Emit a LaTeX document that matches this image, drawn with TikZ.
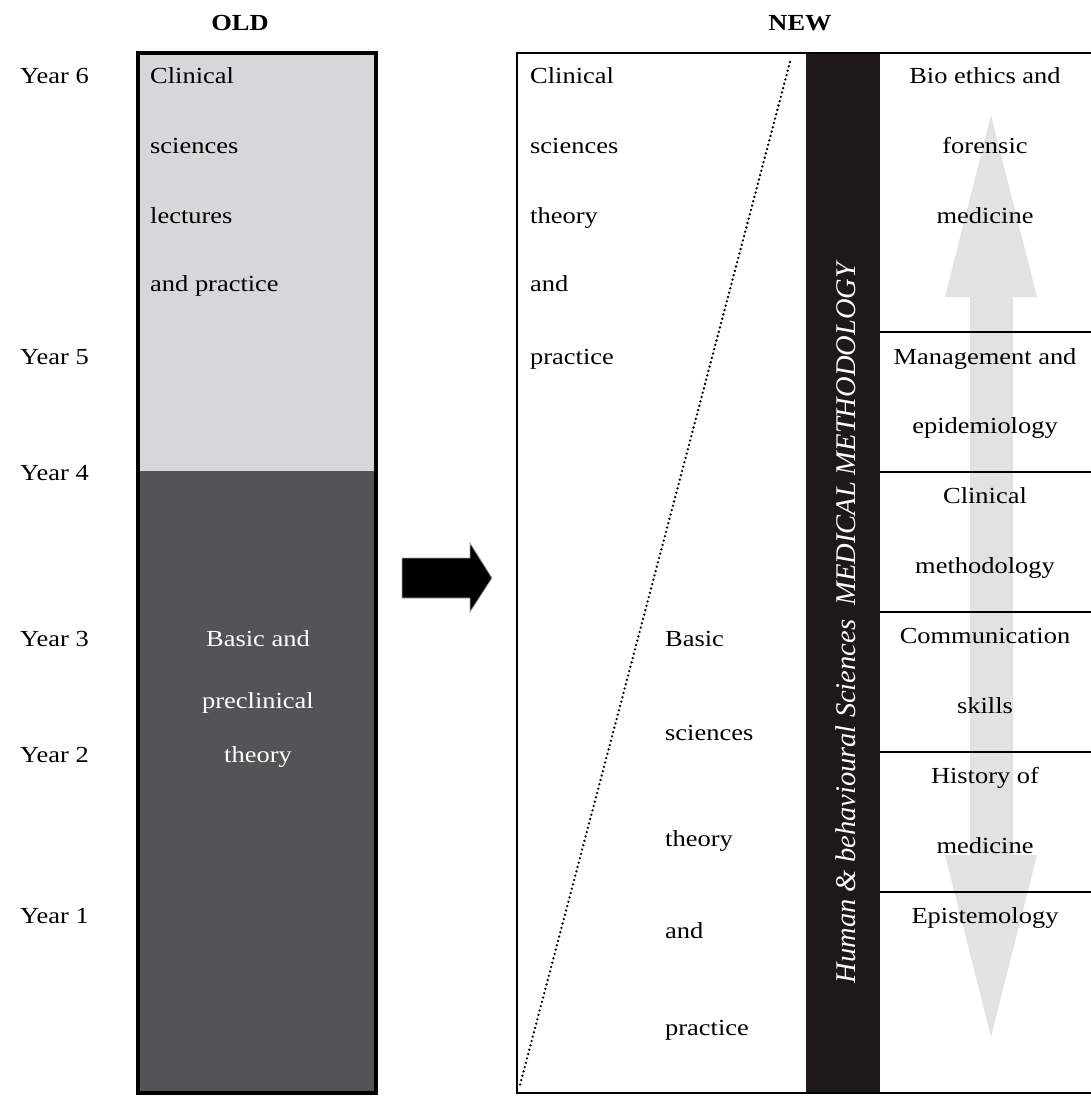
\documentclass[tikz,border=0pt]{standalone}
\usepackage{fontspec}
\setmainfont[FakeStretch=1.15]{Liberation Serif}
\newfontfamily\rotfont{Liberation Serif}
\definecolor{oldlight}{HTML}{D6D7D9}
\definecolor{olddark}{HTML}{545456}
\definecolor{barblack}{HTML}{1D191A}
\definecolor{arrgray}{HTML}{E2E2E2}
\begin{document}
\begin{tikzpicture}[x=1pt,y=-1pt,
  txt/.style={font=\fontsize{23}{28}\selectfont, inner sep=0pt},
  lt/.style={txt, anchor=base west},
  ct/.style={txt, anchor=base},
  head/.style={font=\fontsize{23}{28}\selectfont\bfseries, inner sep=0pt, anchor=base},
  divider/.style={line width=2pt}]
\useasboundingbox (0,0) rectangle (1091,1096);
% headings
\node[head] (old) at (240,30) {OLD};
\node[head] (new) at (800,30) {NEW};
% years
\node[lt] (y6) at (20,83) {Year 6};
\node[lt] (y5) at (20,364) {Year 5};
\node[lt] (y4) at (20,480) {Year 4};
\node[lt] (y3) at (20,646) {Year 3};
\node[lt] (y2) at (20,762) {Year 2};
\node[lt] (y1) at (20,923) {Year 1};
% OLD column
\fill[oldlight] (138,53) rectangle (376,471);
\fill[olddark] (138,471) rectangle (376,1093);
\draw[line width=4pt] (138,53) rectangle (376,1093);
\node[lt] (o1) at (150,83) {Clinical};
\node[lt] (o2) at (150,153) {sciences};
\node[lt] (o3) at (150,223) {lectures};
\node[lt] (o4) at (150,291) {and practice};
\node[ct, text=white] (o5) at (258,646) {Basic and};
\node[ct, text=white] (o6) at (258,708) {preclinical};
\node[ct, text=white] (o7) at (258,762) {theory};
% transition arrow
\fill[black, draw=gray!70, line width=0.8pt] (402,558) -- (470,558) -- (470,543) -- (492,578) -- (470,612) -- (470,598) -- (402,598) -- cycle;
% NEW column
\fill[arrgray] (991,115) -- (1037,297) -- (1013,297) -- (1013,855) -- (1037,855) -- (991,1037) -- (945,855) -- (970,855) -- (970,297) -- (945,297) -- cycle;
\fill[barblack] (806,53) rectangle (880,1093);
\draw[line width=2pt] (517,53) rectangle (1095,1093);
\foreach \yy in {332,472,612,752,892} \draw[divider] (880,\yy) -- (1095,\yy);
\draw[line width=2.6pt, dash pattern=on 0pt off 4.5pt, line cap=round] (790,62) -- (520,1085);
\node[lt] (n1) at (530,83) {Clinical};
\node[lt] (n2) at (530,153) {sciences};
\node[lt] (n3) at (530,223) {theory};
\node[lt] (n4) at (530,291) {and};
\node[lt] (n5) at (530,364) {practice};
\node[lt] (b1) at (665,646) {Basic};
\node[lt] (b2) at (665,740) {sciences};
\node[lt] (b3) at (665,846) {theory};
\node[lt] (b4) at (665,938) {and};
\node[lt] (b5) at (665,1035) {practice};
\node[rotate=90, text=white, inner sep=0pt, font=\rotfont\fontsize{28.5}{30}\selectfont\itshape] (bar) at (846,623) {Human \& behavioural Sciences\ \ MEDICAL METHODOLOGY};
\node[ct] (r1) at (985,83) {Bio ethics and};
\node[ct] (r2) at (985,153) {forensic};
\node[ct] (r3) at (985,223) {medicine};
\node[ct] (r4) at (985,364) {Management and};
\node[ct] (r5) at (985,433) {epidemiology};
\node[ct] (r6) at (985,503) {Clinical};
\node[ct] (r7) at (985,573) {methodology};
\node[ct] (r8) at (985,643) {Communication};
\node[ct] (r9) at (985,713) {skills};
\node[ct] (r10) at (985,783) {History of};
\node[ct] (r11) at (985,853) {medicine};
\node[ct] (r12) at (985,923) {Epistemology};
\end{tikzpicture}
\end{document}
